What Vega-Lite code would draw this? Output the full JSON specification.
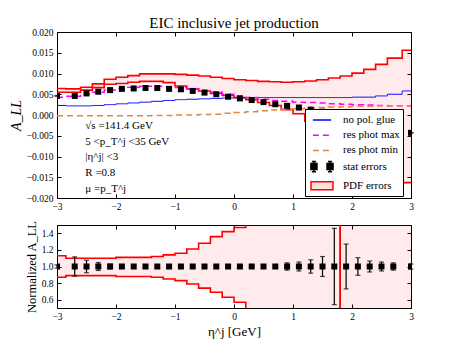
{
  "$schema": "https://vega.github.io/schema/vega-lite/v6.json",
  "background": "white",
  "padding": {"left": 8, "top": 15, "right": 5, "bottom": 5},
  "spacing": 8,
  "datasets": {
    "main": [
      {"x": -3.0, "y": 0.0046, "err": 0.0001, "blue": 0.0023, "mag": 0.0043, "org": -0.0002, "up": 0.0064, "lo": 0.0055, "ny": 1, "nerr": 0.02, "nup": 1.13, "nlo": 0.87},
      {"x": -2.7, "y": 0.0046, "err": 0.0005, "blue": 0.0022, "mag": 0.0045, "org": -0.0002, "up": 0.0063, "lo": 0.0055, "ny": 1, "nerr": 0.116, "nup": 1.10, "nlo": 0.89},
      {"x": -2.5, "y": 0.0052, "err": 0.0004, "blue": 0.0022, "mag": 0.0050, "org": -0.0002, "up": 0.0067, "lo": 0.0060, "ny": 1, "nerr": 0.075, "nup": 1.10, "nlo": 0.89},
      {"x": -2.3, "y": 0.0056, "err": 0.0003, "blue": 0.0023, "mag": 0.0055, "org": -0.0002, "up": 0.0075, "lo": 0.0066, "ny": 1, "nerr": 0.048, "nup": 1.10, "nlo": 0.89},
      {"x": -2.1, "y": 0.0060, "err": 0.0002, "blue": 0.0025, "mag": 0.0060, "org": -0.0002, "up": 0.0086, "lo": 0.0074, "ny": 1, "nerr": 0.03, "nup": 1.10, "nlo": 0.89},
      {"x": -1.9, "y": 0.0063, "err": 0.0001, "blue": 0.0027, "mag": 0.0064, "org": -0.0002, "up": 0.0091, "lo": 0.0076, "ny": 1, "nerr": 0.02, "nup": 1.11, "nlo": 0.88},
      {"x": -1.7, "y": 0.0064, "err": 0.0001, "blue": 0.0029, "mag": 0.0067, "org": -0.0002, "up": 0.0095, "lo": 0.0079, "ny": 1, "nerr": 0.015, "nup": 1.11, "nlo": 0.88},
      {"x": -1.5, "y": 0.0065, "err": 0.0001, "blue": 0.0031, "mag": 0.0069, "org": -0.0002, "up": 0.0099, "lo": 0.0081, "ny": 1, "nerr": 0.012, "nup": 1.11, "nlo": 0.88},
      {"x": -1.3, "y": 0.0065, "err": 0.0001, "blue": 0.0033, "mag": 0.0069, "org": -0.0001, "up": 0.0099, "lo": 0.0081, "ny": 1, "nerr": 0.01, "nup": 1.12, "nlo": 0.87},
      {"x": -1.1, "y": 0.0063, "err": 0.0001, "blue": 0.0035, "mag": 0.0068, "org": -0.0001, "up": 0.0099, "lo": 0.0078, "ny": 1, "nerr": 0.01, "nup": 1.14, "nlo": 0.85},
      {"x": -0.9, "y": 0.0062, "err": 0.0001, "blue": 0.0037, "mag": 0.0066, "org": 0.0000, "up": 0.0098, "lo": 0.0070, "ny": 1, "nerr": 0.01, "nup": 1.16, "nlo": 0.83},
      {"x": -0.7, "y": 0.0058, "err": 0.0001, "blue": 0.0038, "mag": 0.0063, "org": 0.0000, "up": 0.0096, "lo": 0.0063, "ny": 1, "nerr": 0.01, "nup": 1.21, "nlo": 0.79},
      {"x": -0.5, "y": 0.0054, "err": 0.0001, "blue": 0.0039, "mag": 0.0059, "org": 0.0001, "up": 0.0094, "lo": 0.0058, "ny": 1, "nerr": 0.01, "nup": 1.28, "nlo": 0.74},
      {"x": -0.3, "y": 0.0050, "err": 0.0001, "blue": 0.0040, "mag": 0.0055, "org": 0.0002, "up": 0.0091, "lo": 0.0052, "ny": 1, "nerr": 0.01, "nup": 1.36, "nlo": 0.69},
      {"x": -0.1, "y": 0.0044, "err": 0.0001, "blue": 0.0041, "mag": 0.0050, "org": 0.0004, "up": 0.0088, "lo": 0.0047, "ny": 1, "nerr": 0.01, "nup": 1.42, "nlo": 0.63},
      {"x": 0.1, "y": 0.0040, "err": 0.0001, "blue": 0.0041, "mag": 0.0046, "org": 0.0006, "up": 0.0085, "lo": 0.0042, "ny": 1, "nerr": 0.01, "nup": 1.47, "nlo": 0.57},
      {"x": 0.3, "y": 0.0036, "err": 0.0001, "blue": 0.0042, "mag": 0.0042, "org": 0.0008, "up": 0.0083, "lo": 0.0037, "ny": 1, "nerr": 0.01, "nup": 5, "nlo": -5},
      {"x": 0.5, "y": 0.0031, "err": 0.0001, "blue": 0.0042, "mag": 0.0038, "org": 0.0010, "up": 0.0081, "lo": 0.0030, "ny": 1, "nerr": 0.012, "nup": 5, "nlo": -5},
      {"x": 0.7, "y": 0.0026, "err": 0.0001, "blue": 0.0042, "mag": 0.0035, "org": 0.0012, "up": 0.0080, "lo": 0.0023, "ny": 1, "nerr": 0.02, "nup": 5, "nlo": -5},
      {"x": 0.9, "y": 0.0022, "err": 0.0001, "blue": 0.0042, "mag": 0.0033, "org": 0.0014, "up": 0.0079, "lo": 0.0013, "ny": 1, "nerr": 0.044, "nup": 5, "nlo": -5},
      {"x": 1.1, "y": 0.0018, "err": 0.0001, "blue": 0.0042, "mag": 0.0031, "org": 0.0015, "up": 0.0080, "lo": 0.0003, "ny": 1, "nerr": 0.054, "nup": 5, "nlo": -5},
      {"x": 1.3, "y": 0.0013, "err": 0.0001, "blue": 0.0042, "mag": 0.0030, "org": 0.0017, "up": 0.0082, "lo": -0.0015, "ny": 1, "nerr": 0.08, "nup": 5, "nlo": -5},
      {"x": 1.5, "y": 0.0008, "err": 0.0001, "blue": 0.0042, "mag": 0.0029, "org": 0.0018, "up": 0.0085, "lo": -0.0030, "ny": 1, "nerr": 0.12, "nup": 5, "nlo": -5},
      {"x": 1.7, "y": 0.0002, "err": 0.0001, "blue": 0.0042, "mag": 0.0027, "org": 0.0019, "up": 0.0089, "lo": -0.0045, "ny": 1, "nerr": 0.46, "nup": 5, "nlo": -5},
      {"x": 1.9, "y": -0.0004, "err": 0.0001, "blue": 0.0042, "mag": 0.0026, "org": 0.0020, "up": 0.0094, "lo": -0.0060, "ny": 1, "nerr": 0.27, "nup": -5, "nlo": 5},
      {"x": 2.1, "y": -0.0010, "err": 0.0001, "blue": 0.0043, "mag": 0.0025, "org": 0.0021, "up": 0.0101, "lo": -0.0075, "ny": 1, "nerr": 0.106, "nup": -5, "nlo": 5},
      {"x": 2.3, "y": -0.0017, "err": 0.0001, "blue": 0.0043, "mag": 0.0024, "org": 0.0021, "up": 0.0110, "lo": -0.0090, "ny": 1, "nerr": 0.066, "nup": -5, "nlo": 5},
      {"x": 2.5, "y": -0.0024, "err": 0.0001, "blue": 0.0046, "mag": 0.0023, "org": 0.0022, "up": 0.0122, "lo": -0.0110, "ny": 1, "nerr": 0.054, "nup": -5, "nlo": 5},
      {"x": 2.7, "y": -0.0031, "err": 0.0001, "blue": 0.0050, "mag": 0.0022, "org": 0.0022, "up": 0.0137, "lo": -0.0135, "ny": 1, "nerr": 0.044, "nup": -5, "nlo": 5},
      {"x": 3.0, "y": -0.0043, "err": 0.0001, "blue": 0.0058, "mag": 0.0022, "org": 0.0022, "up": 0.0156, "lo": -0.0163, "ny": 1, "nerr": 0.03, "nup": -5, "nlo": 5}
    ]
  },
  "resolve": {
    "scale": {"color": "independent", "shape": "independent", "fill": "independent", "strokeDash": "independent"},
    "legend": {"color": "independent", "shape": "independent", "fill": "independent", "strokeDash": "independent"}
  },
  "vconcat": [
    {
      "width": 354,
      "height": 166,
      "data": {"name": "main"},
      "title": {"text": "EIC inclusive jet production", "fontSize": 15, "fontWeight": "normal", "font": "Liberation Serif", "color": "black", "offset": -4},
      "resolve": {"axis": {"x": "independent", "y": "independent"}},
      "layer": [
        {
          "mark": {"type": "area", "interpolate": "step", "fill": "#ff0000", "fillOpacity": 0.08, "clip": true},
          "encoding": {
            "x": {"field": "x", "type": "quantitative", "scale": {"domain": [-3, 3], "nice": false, "zero": false},
                  "axis": {"orient": "bottom", "values": [-3, -2, -1, 0, 1, 2, 3], "format": "d", "title": null}},
            "y": {"field": "lo", "type": "quantitative", "scale": {"domain": [-0.02, 0.02], "nice": false, "zero": false},
                  "axis": {"orient": "left", "values": [-0.02, -0.015, -0.01, -0.005, 0, 0.005, 0.01, 0.015, 0.02], "format": ".3f",
                           "title": "A_LL", "titleFontSize": 14, "titleFontStyle": "italic", "titlePadding": 3}},
            "y2": {"field": "up"}
          }
        },
        {
          "mark": {"type": "line", "interpolate": "step", "color": "#ff0000", "strokeWidth": 1.6, "clip": true},
          "encoding": {
            "x": {"field": "x", "type": "quantitative", "axis": {"orient": "top", "values": [-3, -2, -1, 0, 1, 2, 3], "labels": false, "title": null}},
            "y": {"field": "up", "type": "quantitative", "axis": {"orient": "right", "values": [-0.02, -0.015, -0.01, -0.005, 0, 0.005, 0.01, 0.015, 0.02], "labels": false, "title": null}}
          }
        },
        {
          "mark": {"type": "line", "interpolate": "step", "color": "#ff0000", "strokeWidth": 1.6, "clip": true},
          "encoding": {
            "x": {"field": "x", "type": "quantitative", "axis": null},
            "y": {"field": "lo", "type": "quantitative", "axis": null}
          }
        },
        {
          "mark": {"type": "line", "interpolate": "step", "strokeWidth": 1, "clip": true},
          "encoding": {
            "x": {"field": "x", "type": "quantitative", "axis": null},
            "y": {"field": "blue", "type": "quantitative", "axis": null},
            "color": {"datum": "nopol", "type": "nominal",
              "scale": {"domain": ["nopol", "max", "min", "stat", "pdf"], "range": ["#0000ff", "#ff00ff", "#dd8844", "#000000", "#ff0000"]},
              "legend": {
                "orient": "none", "legendX": 248, "legendY": 77, "title": null,
                "padding": 3, "fillColor": "white", "strokeColor": "black", "cornerRadius": 0,
                "labelFont": "Liberation Serif", "labelFontSize": 11, "labelColor": "black", "labelOffset": 13, "labelLimit": 200,
                "symbolSize": 196, "symbolOffset": 6, "rowPadding": 2.2, "symbolType": "stroke", "symbolStrokeWidth": 1.5, "symbolOpacity": 1,
                "labelExpr": "datum.value==='nopol' ? 'no pol. glue' : datum.value==='max' ? 'res phot max' : datum.value==='min' ? 'res phot min' : datum.value==='stat' ? 'stat errors' : 'PDF errors'"
              }
            },
            "strokeDash": {"datum": "nopol", "type": "nominal",
              "scale": {"domain": ["nopol", "max", "min", "stat", "pdf"], "range": [[1, 0], [6, 4], [6, 4], [1, 0], [1, 0]]}}
          }
        },
        {
          "mark": {"type": "line", "interpolate": "step", "strokeWidth": 1.5, "clip": true},
          "encoding": {
            "x": {"field": "x", "type": "quantitative", "axis": null},
            "y": {"field": "mag", "type": "quantitative", "axis": null},
            "color": {"datum": "max", "type": "nominal"},
            "strokeDash": {"datum": "max", "type": "nominal"}
          }
        },
        {
          "mark": {"type": "line", "interpolate": "step", "strokeWidth": 1.5, "clip": true},
          "encoding": {
            "x": {"field": "x", "type": "quantitative", "axis": null},
            "y": {"field": "org", "type": "quantitative", "axis": null},
            "color": {"datum": "min", "type": "nominal"},
            "strokeDash": {"datum": "min", "type": "nominal"}
          }
        },
        {
          "data": {"values": [{}]},
          "mark": {"type": "point", "clip": true, "size": 196},
          "encoding": {
            "x": {"datum": 50, "type": "quantitative", "axis": null},
            "y": {"datum": 50, "type": "quantitative", "axis": null},
            "shape": {"datum": "stat", "type": "nominal",
              "scale": {"domain": ["nopol", "max", "min", "stat", "pdf"],
                        "range": ["M-1.3,0H1.3", "M-1.3,0H1.3", "M-1.3,0H1.3",
                                  "M-1.58,-0.43H-0.72V0.43H-1.58Z M0.72,-0.43H1.58V0.43H0.72Z M-1.15,-0.72V0.72 M1.15,-0.72V0.72 M-1.45,-0.72H-0.85 M-1.45,0.72H-0.85 M0.85,-0.72H1.45 M0.85,0.72H1.45",
                                  "M-1.57,-0.57H1.57V0.57H-1.57Z"]}},
            "fill": {"datum": "stat", "type": "nominal",
              "scale": {"domain": ["nopol", "max", "min", "stat", "pdf"], "range": ["transparent", "transparent", "transparent", "#000000", "rgba(255,0,0,0.12)"]}}
          }
        },
        {
          "mark": {"type": "errorbar", "ticks": true, "size": 5, "thickness": 1.2, "color": "black"},
          "encoding": {
            "x": {"field": "x", "type": "quantitative", "axis": null},
            "y": {"field": "y", "type": "quantitative", "axis": null},
            "yError": {"field": "err"}
          }
        },
        {
          "mark": {"type": "square", "size": 36, "color": "black", "opacity": 1, "clip": true},
          "encoding": {
            "x": {"field": "x", "type": "quantitative", "axis": null},
            "y": {"field": "y", "type": "quantitative", "axis": null}
          }
        },
        {
          "data": {"values": [{}]},
          "mark": {"type": "text", "align": "left", "baseline": "middle", "font": "Liberation Serif", "fontSize": 11, "lineHeight": 15.8, "color": "black",
                   "text": ["√s =141.4 GeV", "5 <p_T^j <35 GeV", "|η^j| <3", "R =0.8", "μ =p_T^j"]},
          "encoding": {
            "x": {"datum": -2.52, "type": "quantitative", "axis": null},
            "y": {"datum": -0.0026, "type": "quantitative", "axis": null}
          }
        }
      ]
    },
    {
      "width": 354,
      "height": 83,
      "data": {"name": "main"},
      "resolve": {"axis": {"x": "independent", "y": "independent"}},
      "layer": [
        {
          "mark": {"type": "area", "interpolate": "step", "fill": "#ff0000", "fillOpacity": 0.08, "clip": true},
          "encoding": {
            "x": {"field": "x", "type": "quantitative", "scale": {"domain": [-3, 3], "nice": false, "zero": false},
                  "axis": {"orient": "bottom", "values": [-3, -2, -1, 0, 1, 2, 3], "format": "d", "title": "η^j [GeV]", "titleFontSize": 13, "titlePadding": 5}},
            "y": {"field": "nlo", "type": "quantitative", "scale": {"domain": [0.5, 1.5], "nice": false, "zero": false},
                  "axis": {"orient": "left", "values": [0.6, 0.8, 1.0, 1.2, 1.4], "format": ".1f", "title": "Normalized A_LL", "titleFontSize": 12.5, "titlePadding": 3}},
            "y2": {"field": "nup"}
          }
        },
        {
          "mark": {"type": "line", "interpolate": "step", "color": "#ff0000", "strokeWidth": 1.6, "clip": true},
          "encoding": {
            "x": {"field": "x", "type": "quantitative", "axis": {"orient": "top", "values": [-3, -2, -1, 0, 1, 2, 3], "labels": false, "title": null}},
            "y": {"field": "nup", "type": "quantitative", "axis": {"orient": "right", "values": [0.6, 0.8, 1.0, 1.2, 1.4], "labels": false, "title": null}}
          }
        },
        {
          "mark": {"type": "line", "interpolate": "step", "color": "#ff0000", "strokeWidth": 1.6, "clip": true},
          "encoding": {
            "x": {"field": "x", "type": "quantitative", "axis": null},
            "y": {"field": "nlo", "type": "quantitative", "axis": null}
          }
        },
        {
          "mark": {"type": "errorbar", "ticks": true, "size": 5, "thickness": 1.2, "color": "black"},
          "encoding": {
            "x": {"field": "x", "type": "quantitative", "axis": null},
            "y": {"field": "ny", "type": "quantitative", "axis": null},
            "yError": {"field": "nerr"}
          }
        },
        {
          "mark": {"type": "square", "size": 36, "color": "black", "opacity": 1, "clip": true},
          "encoding": {
            "x": {"field": "x", "type": "quantitative", "axis": null},
            "y": {"field": "ny", "type": "quantitative", "axis": null}
          }
        }
      ]
    }
  ],
  "config": {
    "font": "Liberation Serif",
    "view": {"stroke": "black", "strokeWidth": 1},
    "axis": {"grid": false, "domain": false, "tickColor": "black", "tickSize": -4, "tickWidth": 1, "labelFlush": false, "labelOverlap": false,
             "labelFont": "Liberation Serif", "labelFontSize": 9.5, "labelColor": "black", "labelPadding": 7,
             "titleFont": "Liberation Serif", "titleFontWeight": "normal", "titleColor": "black"},
    "axisY": {"labelPadding": 8}
  }
}
